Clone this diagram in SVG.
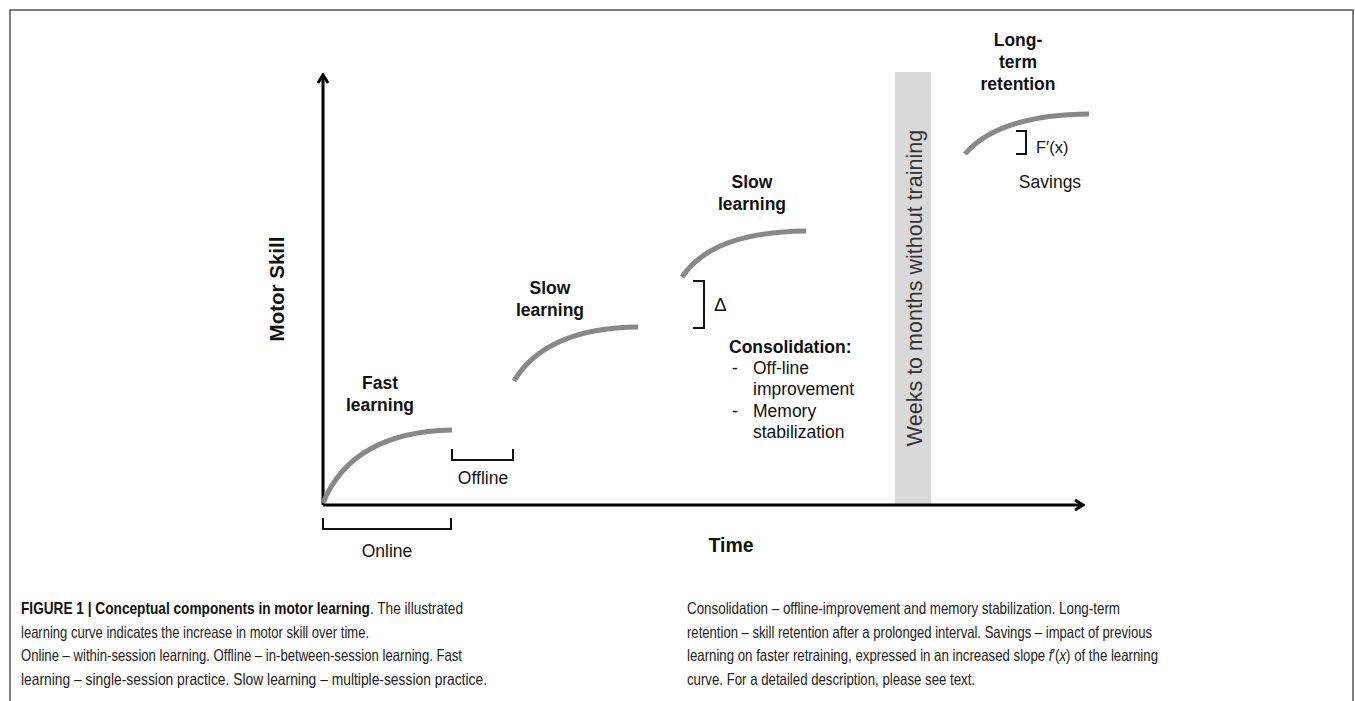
<svg xmlns="http://www.w3.org/2000/svg" width="1355" height="701" viewBox="0 0 1355 701">
<style>
text{font-family:"Liberation Sans",Arial,sans-serif;fill:#111}
.lb{font-size:17.5px;font-weight:bold;text-anchor:middle}
.ln{font-size:17.5px}
.cap{font-size:16.5px;fill:#222}
.curve{fill:none;stroke:#888;stroke-width:5}
.br{fill:none;stroke:#111;stroke-width:2}
.ax{fill:none;stroke:#000;stroke-width:3}
</style>
<defs>
<marker id="ah" markerWidth="12" markerHeight="12" refX="10" refY="6" orient="auto" markerUnits="userSpaceOnUse">
<path d="M2,1 L10,6 L2,11" fill="none" stroke="#000" stroke-width="3"/>
</marker>
</defs>
<rect x="0" y="0" width="1355" height="701" fill="#fff"/>
<path d="M10,701 V10 H1353 V701" fill="none" stroke="#555" stroke-width="1.5"/>
<rect id="gap-band" x="895" y="72" width="36" height="433" fill="#d9d9d9"/>
<g id="connectors">
<line class="ax" x1="323" y1="505" x2="323" y2="75" marker-end="url(#ah)"/>
<line class="ax" x1="323" y1="505" x2="1083" y2="505" marker-end="url(#ah)"/>
<path class="curve" d="M323,503 Q352,432 452,430"/>
<path class="curve" d="M514,381 Q546,328 638,327"/>
<path class="curve" d="M682,277 Q712,232 806,231"/>
<path class="curve" d="M965,154 Q998,115 1089,114"/>
</g>
<g id="axis-labels">
<text class="lb" style="font-size:20.5px" transform="translate(284,289) rotate(-90)">Motor Skill</text>
<text class="lb" style="font-size:19.5px" x="731" y="552">Time</text>
</g>
<g id="online">
<path class="br" d="M323,518 V529 H451 V518"/>
<text class="ln" x="387" y="557" text-anchor="middle">Online</text>
</g>
<g id="offline">
<path class="br" d="M452,449 V460 H513 V449"/>
<text class="ln" x="483" y="484" text-anchor="middle">Offline</text>
</g>
<g id="fast-learning">
<text class="lb" x="380" y="389">Fast</text>
<text class="lb" x="380" y="411">learning</text>
</g>
<g id="slow-learning-1">
<text class="lb" x="550" y="294">Slow</text>
<text class="lb" x="550" y="316">learning</text>
</g>
<g id="slow-learning-2">
<text class="lb" x="752" y="188">Slow</text>
<text class="lb" x="752" y="210">learning</text>
</g>
<g id="delta">
<path class="br" d="M693,281 H704 V328 H693"/>
<text class="ln" x="714" y="311" style="font-size:19px">Δ</text>
</g>
<g id="consolidation">
<text class="ln" x="729" y="353" style="font-weight:bold">Consolidation:</text>
<text class="ln" x="732" y="374">-</text>
<text class="ln" x="753" y="374">Off-line</text>
<text class="ln" x="753" y="395">improvement</text>
<text class="ln" x="732" y="417">-</text>
<text class="ln" x="753" y="417">Memory</text>
<text class="ln" x="753" y="438">stabilization</text>
</g>
<g id="weeks">
<text class="ln" style="font-size:21.5px;fill:#333" text-anchor="middle" transform="translate(922,288) rotate(-90)">Weeks to months without training</text>
</g>
<g id="long-term">
<text class="lb" x="1018" y="46">Long-</text>
<text class="lb" x="1018" y="68">term</text>
<text class="lb" x="1018" y="90">retention</text>
<path class="br" d="M1016,131 H1026 V154 H1016"/>
<text class="ln" x="1036" y="153" style="font-size:16.5px">F′(x)</text>
<text class="ln" x="1050" y="188" text-anchor="middle">Savings</text>
</g>
<g id="caption">
<text class="cap" x="21" y="614" textLength="442" lengthAdjust="spacingAndGlyphs"><tspan font-weight="bold" fill="#111">FIGURE 1 | Conceptual components in motor learning</tspan>. The illustrated</text>
<text class="cap" x="21" y="638" textLength="348" lengthAdjust="spacingAndGlyphs">learning curve indicates the increase in motor skill over time.</text>
<text class="cap" x="21" y="661" textLength="441" lengthAdjust="spacingAndGlyphs">Online – within-session learning. Offline – in-between-session learning. Fast</text>
<text class="cap" x="21" y="685" textLength="466" lengthAdjust="spacingAndGlyphs">learning – single-session practice. Slow learning – multiple-session practice.</text>
<text class="cap" x="687" y="614" textLength="433" lengthAdjust="spacingAndGlyphs">Consolidation – offline-improvement and memory stabilization. Long-term</text>
<text class="cap" x="687" y="638" textLength="465" lengthAdjust="spacingAndGlyphs">retention – skill retention after a prolonged interval. Savings – impact of previous</text>
<text class="cap" x="687" y="661" textLength="471" lengthAdjust="spacingAndGlyphs">learning on faster retraining, expressed in an increased slope <tspan font-style="italic">f</tspan>′(<tspan font-style="italic">x</tspan>) of the learning</text>
<text class="cap" x="687" y="685" textLength="288" lengthAdjust="spacingAndGlyphs">curve. For a detailed description, please see text.</text>
</g>
</svg>
